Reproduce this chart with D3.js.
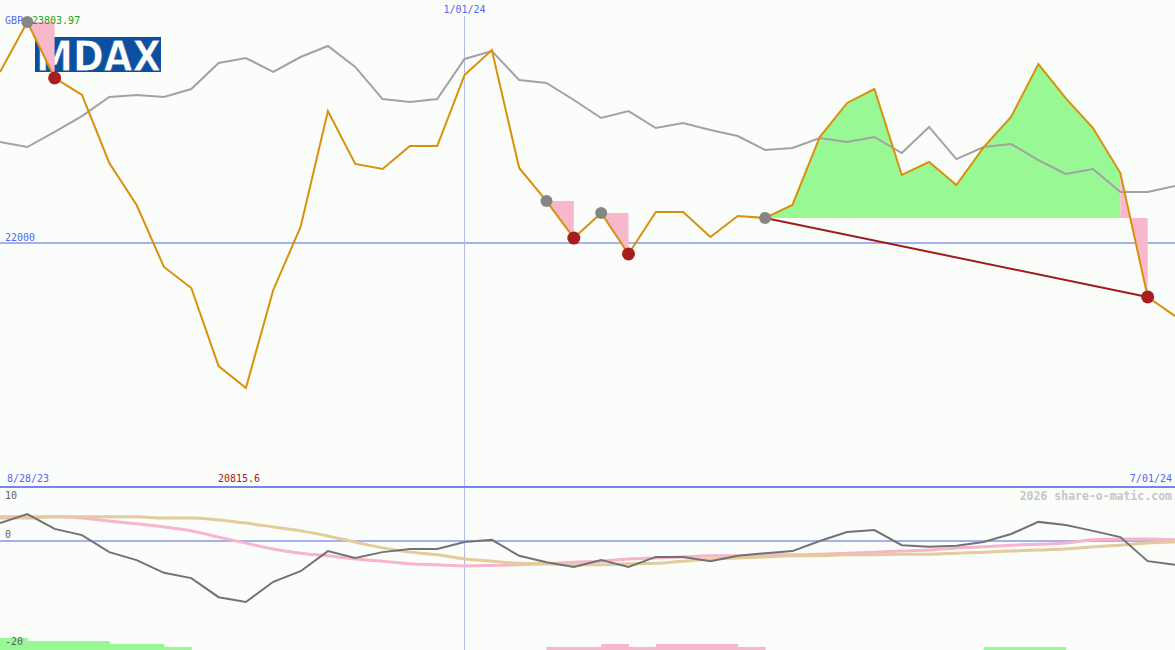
<!DOCTYPE html>
<html>
<head>
<meta charset="utf-8">
<script src="https://cdn.jsdelivr.net/npm/d3@7"></script>
<style>
html,body{margin:0;padding:0;background:#fbfdfb;}
svg{display:block;}
text{font-family:"DejaVu Sans Mono",monospace;}
</style>
</head>
<body>
<svg id="chart" width="1175" height="650"></svg>
<script>
// ---------- DATA ----------
const currency = "GBP";
const indexName = "MDAX";
const xTickLabels = ["8/28/23", "1/01/24", "7/01/24"];
const xTickIndex = [0, 17, 43];
const refLevel = 22000;
const maxValue = 23803.97;
const minValue = 20815.6;

// MDAX weekly closes (orange)
const mdax = [23396, 23803.97, 23347, 23208, 22653, 22310, 21804, 21632, 20995, 20815.6,
  21616, 22130, 23077, 22645, 22604, 22791, 22791, 23371, 23575, 22612,
  22342, 22040, 22244, 21910, 22253, 22253, 22048, 22220, 22204, 22310,
  22865, 23143, 23257, 22555, 22661, 22473, 22783, 23028, 23461, 23183,
  22938, 22571, 21559, 21403];

// comparison line (grey), same scale
const compare = [22824, 22783, 22906, 23036, 23192, 23208, 23192, 23257, 23469, 23510,
  23396, 23518, 23608, 23437, 23175, 23151, 23175, 23502, 23567, 23330,
  23306, 23167, 23020, 23077, 22938, 22979, 22922, 22873, 22759, 22775,
  22857, 22824, 22865, 22734, 22947, 22685, 22783, 22808, 22677, 22563,
  22604, 22416, 22416, 22465];

// signals: start (grey dot) and end (red dot) indices
const signalStart = [1, 20, 22, 28];
const signalEnd = [2, 21, 23, 42];

// lower panel: momentum (dark grey), two smoothed lines (pink, tan)
const momentum = [4.6, 6.9, 3.1, 1.5, -2.1, -3.6, -6.0, -7.0, -10.6, -11.5,
  -7.7, -5.7, -1.9, -3.2, -2.1, -1.5, -1.5, -0.2, 0.3, -2.8,
  -4.0, -4.9, -3.6, -4.9, -3.0, -3.0, -3.8, -2.8, -2.3, -1.9,
  0.0, 2.3, 2.8, -0.8, -1.1, -0.9, -0.2, 1.8, 4.9, 4.1,
  2.6, 1.0, -3.8, -4.5];
const smoothFast = [6.2, 6.2, 6.2, 5.9, 5.1, 4.4, 3.6, 2.6, 1.0, -0.4,
  -1.5, -2.3, -2.8, -3.4, -3.8, -4.3, -4.5, -4.7, -4.6, -4.5,
  -4.3, -4.0, -3.8, -3.4, -3.2, -3.0, -2.8, -2.8, -2.6, -2.6,
  -2.5, -2.3, -2.1, -1.9, -1.7, -1.3, -1.1, -0.8, -0.6, -0.4,
  0.3, 0.5, 0.5, 0.3];
const smoothSlow = [5.9, 5.9, 6.2, 6.2, 6.2, 6.2, 5.9, 5.9, 5.4, 4.6,
  3.6, 2.6, 1.3, -0.2, -1.3, -2.1, -2.6, -3.4, -3.8, -4.2,
  -4.3, -4.5, -4.5, -4.3, -4.2, -3.8, -3.4, -3.2, -3.0, -2.8,
  -2.8, -2.6, -2.6, -2.5, -2.5, -2.3, -2.1, -1.9, -1.7, -1.5,
  -1.1, -0.8, -0.4, -0.2];
const lowerTicks = [10, 0, -20];

// bottom signal bars (levels per week)
const buyLevel = [4,3,3,3,2,2,1,0,0,0, 0,0,0,0,0,0,0,0,0,0, 0,0,0,0,0,0,0,0,0,0, 0,0,0,0,0,0,1,1,1,0, 0,0,0,0];
const sellLevel = [0,0,0,0,0,0,0,0,0,0, 0,0,0,0,0,0,0,0,0,0, 1,1,2,1,2,2,2,1,0,0, 0,0,0,0,0,0,0,0,0,0, 0,0,0,0];

const watermark = "2026 share-o-matic.com";

// ---------- CHART ----------
const W = 1175, H = 650;
const svg = d3.select("#chart");
svg.append("rect").attr("width", W).attr("height", H).attr("fill", "#fbfdfb");

const x = d3.scaleLinear().domain([0, mdax.length - 1]).range([0, W]);
const y = d3.scaleLinear().domain([minValue, maxValue]).range([388, 22]);
const yl = d3.scaleLinear().domain([-20, 0, 10]).range([647, 541, 502]);
const barH = d3.scaleLinear().domain([0, 4]).range([0, 12]);

// logo
const logo = svg.append("g");
logo.append("rect").attr("x", 35).attr("y", 37).attr("width", 126).attr("height", 35).attr("fill", "#0b4f9e");
logo.append("text").attr("x", 36).attr("y", 71)
  .attr("textLength", 125).attr("lengthAdjust", "spacingAndGlyphs")
  .style("font-family", "'DejaVu Sans',sans-serif").style("font-weight", "bold")
  .style("font-size", "43px").attr("fill", "#ffffff")
  .attr("stroke", "#0b4f9e").attr("stroke-width", 0.8)
  .text(indexName);

// reference line 22000
svg.append("line").attr("x1", 0).attr("x2", W).attr("y1", y(refLevel)).attr("y2", y(refLevel))
  .attr("stroke", "#a4b0f2").attr("stroke-width", 2);
// vertical date line
svg.append("line").attr("x1", x(xTickIndex[1])).attr("x2", x(xTickIndex[1]))
  .attr("y1", 16).attr("y2", H).attr("stroke", "#b0b8e6").attr("stroke-width", 1);

// fills for signals
const area = (base) => d3.area().x(d => x(d.i)).y0(y(base)).y1(d => y(d.v));
const pts = mdax.map((v, i) => ({i, v}));
signalStart.forEach((s, k) => {
  const e = signalEnd[k];
  const base = mdax[s];
  if (e - 1 > s) {
    svg.append("path").datum(pts.slice(s, e)).attr("d", area(base)).attr("fill", "#98f994");
  }
  svg.append("path").datum(pts.slice(e - 1, e + 1)).attr("d", area(base)).attr("fill", "#f8b8cc");
});

// comparison line
svg.append("path").datum(compare)
  .attr("d", d3.line().x((d, i) => x(i)).y(d => y(d)))
  .attr("fill", "none").attr("stroke", "#a2a2a2").attr("stroke-width", 2);

// trend line of last signal
const ls = signalStart[3], le = signalEnd[3];
svg.append("line").attr("x1", x(ls)).attr("y1", y(mdax[ls])).attr("x2", x(le)).attr("y2", y(mdax[le]))
  .attr("stroke", "#a01c1c").attr("stroke-width", 2);

// MDAX line
svg.append("path").datum(mdax)
  .attr("d", d3.line().x((d, i) => x(i)).y(d => y(d)))
  .attr("fill", "none").attr("stroke", "#d9900a").attr("stroke-width", 2);

// markers
svg.selectAll("circle.s").data(signalStart).join("circle")
  .attr("cx", d => x(d)).attr("cy", d => y(mdax[d])).attr("r", 6).attr("fill", "#858585");
svg.selectAll("circle.e").data(signalEnd).join("circle")
  .attr("cx", d => x(d)).attr("cy", d => y(mdax[d])).attr("r", 6.5).attr("fill", "#a81e1e");

// labels main
svg.append("text").attr("x", 5).attr("y", 24).style("font-size", "10px").attr("fill", "#5466f2").text(currency);
svg.append("text").attr("x", 32).attr("y", 24).style("font-size", "10px").attr("fill", "#22a022").text(d3.format(".2f")(maxValue));
svg.append("text").attr("x", 5).attr("y", y(refLevel) - 2).style("font-size", "10px").attr("fill", "#5466f2").text(d3.format("d")(refLevel));
svg.append("text").attr("x", x(xTickIndex[1])).attr("y", 13).attr("text-anchor", "middle").style("font-size", "10px").attr("fill", "#5466f2").text(xTickLabels[1]);
svg.append("text").attr("x", 7).attr("y", 482).style("font-size", "10px").attr("fill", "#5466f2").text(xTickLabels[0]);
svg.append("text").attr("x", W - 3).attr("y", 482).attr("text-anchor", "end").style("font-size", "10px").attr("fill", "#5466f2").text(xTickLabels[2]);
svg.append("text").attr("x", 218).attr("y", 482).style("font-size", "10px").attr("fill", "#a82020").text(minValue);

// separator
svg.append("line").attr("x1", 0).attr("x2", W).attr("y1", 487).attr("y2", 487)
  .attr("stroke", "#7585ea").attr("stroke-width", 2);

// watermark
svg.append("text").attr("x", W - 3).attr("y", 500).attr("text-anchor", "end")
  .style("font-size", "11.5px").style("font-weight", "bold").attr("fill", "#c6c6c6").text(watermark);

// lower panel
svg.append("line").attr("x1", 0).attr("x2", W).attr("y1", yl(0)).attr("y2", yl(0))
  .attr("stroke", "#a4b0f2").attr("stroke-width", 2);
lowerTicks.slice(0, 2).forEach(t => {
  svg.append("text").attr("x", 5).attr("y", yl(t) - 3).style("font-size", "10px").attr("fill", "#606060").text(t);
});

const lineL = d3.line().x((d, i) => x(i)).y(d => yl(d));
svg.append("path").datum(smoothFast).attr("d", lineL.curve(d3.curveMonotoneX))
  .attr("fill", "none").attr("stroke", "#f8b4c8").attr("stroke-width", 3);
svg.append("path").datum(smoothSlow).attr("d", lineL.curve(d3.curveMonotoneX))
  .attr("fill", "none").attr("stroke", "#e2cc9c").attr("stroke-width", 3);
svg.append("path").datum(momentum).attr("d", d3.line().x((d, i) => x(i)).y(d => yl(d)))
  .attr("fill", "none").attr("stroke", "#727272").attr("stroke-width", 2);

// bars
const bars = (levels, color) => {
  svg.append("g").selectAll("rect").data(levels.map((l, i) => ({l, i})).filter(d => d.l > 0)).join("rect")
    .attr("x", d => x(d.i)).attr("width", d => x(d.i + 1) - x(d.i) + 0.5)
    .attr("y", d => H - barH(d.l)).attr("height", d => barH(d.l)).attr("fill", color);
};
bars(buyLevel, "#98f994");
bars(sellLevel, "#f8b8cc");
// -20 label on top of bars
svg.append("text").attr("x", 5).attr("y", yl(-20) - 2).style("font-size", "10px").attr("fill", "#606060").text(lowerTicks[2]);
</script>
</body>
</html>
